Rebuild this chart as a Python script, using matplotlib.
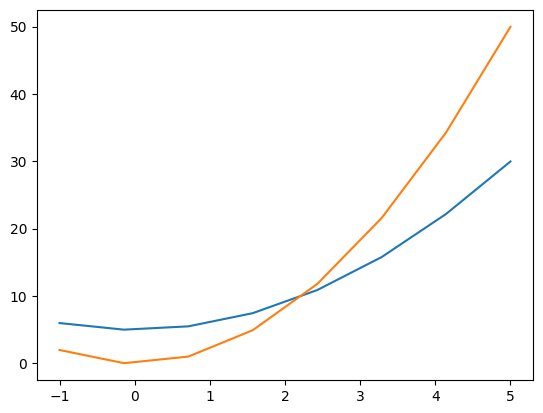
import matplotlib
matplotlib.use("Agg")
import matplotlib.pyplot as plt

# values
x_vals = [-1.0, -0.143, 0.714, 1.571, 2.429, 3.286, 4.143, 5.0]
blue_vals = [6.0, 5.02, 5.51, 7.47, 10.9, 15.8, 22.2, 30.0]
orange_vals = [2.0, 0.04, 1.02, 4.94, 11.8, 21.6, 34.3, 50.0]

fig = plt.figure(figsize=(5.43, 4.13), dpi=100)
ax = fig.add_axes([37 / 543, 33 / 413, 496 / 543, 370 / 413])

ax.plot(x_vals, blue_vals)
ax.plot(x_vals, orange_vals)

fig.savefig("out.png", dpi=100)
plt.close(fig)
